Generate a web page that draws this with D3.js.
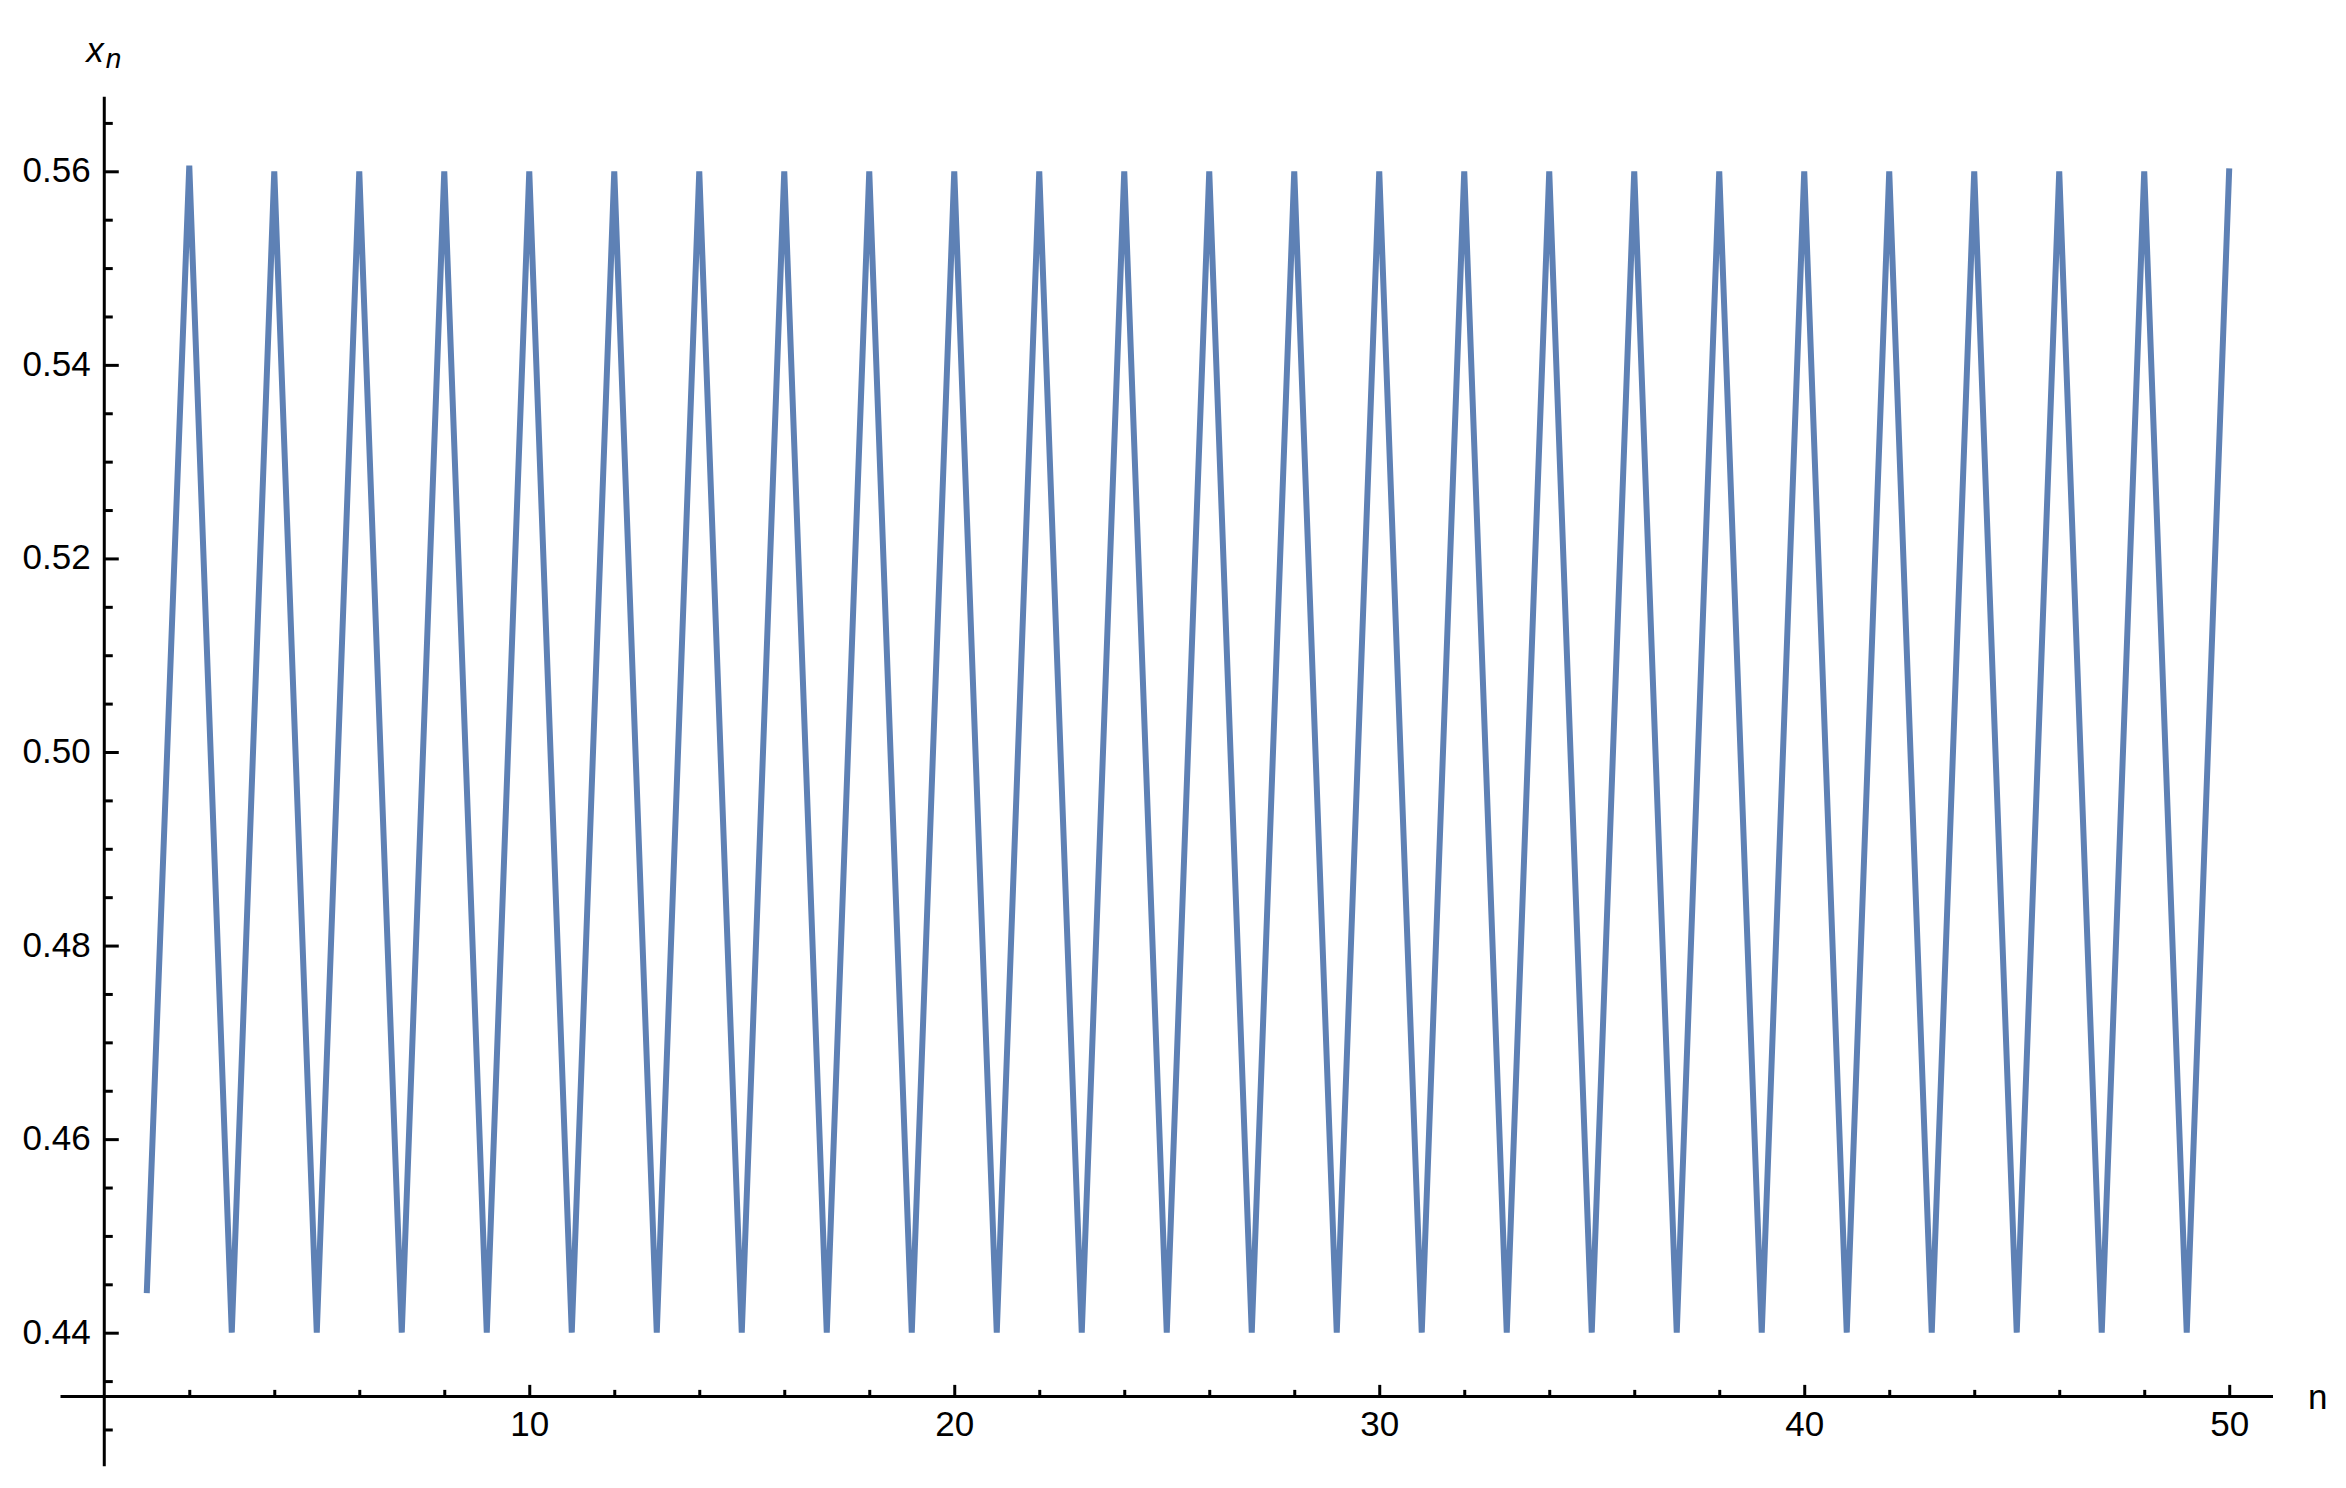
<!DOCTYPE html>
<html>
<head>
<meta charset="utf-8">
<script src="https://cdn.jsdelivr.net/npm/d3@7"></script>
<style>
  html, body { margin: 0; padding: 0; background: #fff; }
  svg { display: block; }
  text { font-family: "Liberation Sans", Arial, sans-serif; }
</style>
</head>
<body>
<div id="chart"></div>
<script>
// iteration index and values x_n
const nValues = d3.range(1, 51)
const xnValues = [
  0.4441, 0.5606, 0.4400, 0.5600, 0.4400, 0.5600, 0.4400, 0.5600, 0.4400, 0.5600,
  0.4400, 0.5600, 0.4400, 0.5600, 0.4400, 0.5600, 0.4400, 0.5600, 0.4400, 0.5600,
  0.4400, 0.5600, 0.4400, 0.5600, 0.4400, 0.5600, 0.4400, 0.5600, 0.4400, 0.5600,
  0.4400, 0.5600, 0.4400, 0.5600, 0.4400, 0.5600, 0.4400, 0.5600, 0.4400, 0.5600,
  0.4400, 0.5600, 0.4400, 0.5600, 0.4400, 0.5600, 0.4400, 0.5600, 0.4400, 0.5603
]

const xMajorTicks = [10, 20, 30, 40, 50]
const xMinorTicks = [2, 4, 6, 8, 12, 14, 16, 18, 22, 24, 26, 28, 32, 34, 36, 38, 42, 44, 46, 48]
const yMajorTicks = [0.44, 0.46, 0.48, 0.50, 0.52, 0.54, 0.56]
const yMinorTicks = [0.43, 0.435, 0.445, 0.45, 0.455, 0.465, 0.47, 0.475, 0.485, 0.49, 0.495,
  0.505, 0.51, 0.515, 0.525, 0.53, 0.535, 0.545, 0.55, 0.555, 0.565]

const xExtent = [-1.03, 51.03]
const yExtent = [0.4262, 0.5677]
const xAxisAt = 0.4334

const width = 2346
const height = 1488
const lineColor = "#5e81b5"
const fontSize = 35

const svg = d3.select("#chart").append("svg")
  .attr("width", width)
  .attr("height", height)
  .attr("viewBox", [0, 0, width, height])

svg.append("rect").attr("width", width).attr("height", height).attr("fill", "#fff")

const x = d3.scaleLinear().domain(xExtent).range([60.5, 2273])
const y = d3.scaleLinear().domain([0.44, 0.56]).range([1332.7, 171.3])

const data = nValues.map((n, i) => ({ n: n, v: xnValues[i] }))

const line = d3.line()
  .x(d => x(d.n))
  .y(d => y(d.v))

svg.append("path")
  .datum(data)
  .attr("fill", "none")
  .attr("stroke", lineColor)
  .attr("stroke-width", 6)
  .attr("stroke-linejoin", "bevel")
  .attr("d", line)

const styleAxis = g => g
  .attr("font-family", null)
  .attr("font-size", null)
  .call(g => g.select(".domain").remove())
  .call(g => g.selectAll(".tick line").attr("stroke", "#000").attr("stroke-width", 3))
  .call(g => g.selectAll(".tick text").attr("fill", "#000").style("font-size", fontSize + "px"))

// y axis: ticks point into the plot
svg.append("g")
  .attr("transform", `translate(${x(0)},0)`)
  .call(d3.axisLeft(y).tickValues(yMinorTicks).tickSizeInner(-8.5).tickSizeOuter(0).tickFormat(""))
  .call(styleAxis)

svg.append("g")
  .attr("transform", `translate(${x(0)},0)`)
  .call(d3.axisLeft(y).tickValues(yMajorTicks).tickSizeInner(-14.5).tickSizeOuter(0)
    .tickPadding(13.6).tickFormat(d3.format(".2f")))
  .call(styleAxis)
  .call(g => g.selectAll(".tick text").attr("dy", "0.3em"))

// x axis
svg.append("g")
  .attr("transform", `translate(0,${y(xAxisAt)})`)
  .call(d3.axisBottom(x).tickValues(xMinorTicks).tickSizeInner(-6.7).tickSizeOuter(0).tickFormat(""))
  .call(styleAxis)

svg.append("g")
  .attr("transform", `translate(0,${y(xAxisAt)})`)
  .call(d3.axisBottom(x).tickValues(xMajorTicks).tickSizeInner(-11.7).tickSizeOuter(0)
    .tickPadding(15).tickFormat(d3.format("d")))
  .call(styleAxis)

// axis lines
svg.append("line")
  .attr("x1", x(0)).attr("x2", x(0))
  .attr("y1", y(yExtent[1])).attr("y2", y(yExtent[0]))
  .attr("stroke", "#000").attr("stroke-width", 3)

svg.append("line")
  .attr("x1", x(xExtent[0])).attr("x2", x(xExtent[1]))
  .attr("y1", y(xAxisAt)).attr("y2", y(xAxisAt))
  .attr("stroke", "#000").attr("stroke-width", 3)

// axis labels
svg.append("text")
  .attr("x", x(xExtent[1]) + 35)
  .attr("y", y(xAxisAt) + 12.6)
  .attr("fill", "#000")
  .style("font-size", fontSize + "px")
  .text("n")

const yLabel = svg.append("text")
  .attr("x", x(0) - 18)
  .attr("y", 62.3)
  .attr("fill", "#000")
  .style("font-size", fontSize + "px")
  .style("font-style", "italic")

yLabel.append("tspan").text("x")
yLabel.append("tspan")
  .attr("dy", 6)
  .attr("dx", 2)
  .style("font-size", "28px")
  .text("n")
</script>
</body>
</html>
